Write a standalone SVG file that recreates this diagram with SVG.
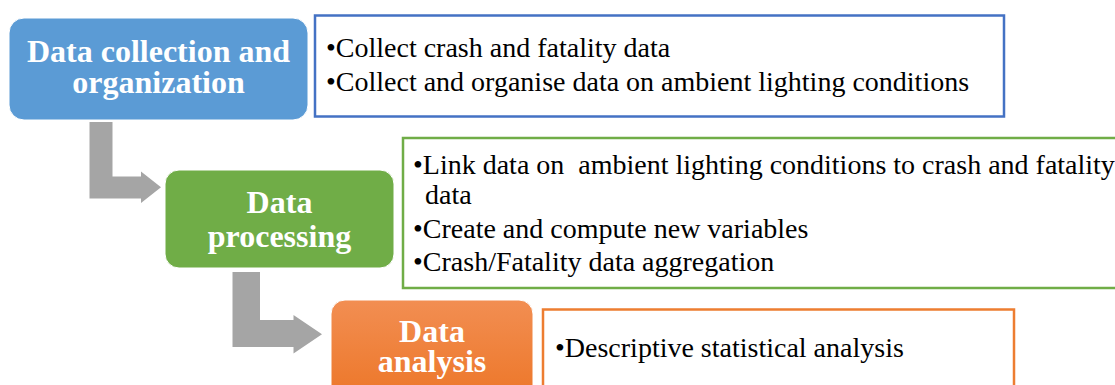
<svg xmlns="http://www.w3.org/2000/svg" width="1115" height="385" viewBox="0 0 1115 385">
<defs>
<linearGradient id="orangeGrad" x1="0" y1="0" x2="0" y2="1">
<stop offset="0" stop-color="#F28E52"/>
<stop offset="1" stop-color="#EC7424"/>
</linearGradient>
<style>
.title{font-family:"Liberation Serif","Times New Roman",serif;font-weight:bold;font-size:32px;fill:#FFFFFF;text-anchor:middle;}
.item{font-family:"Liberation Serif","Times New Roman",serif;font-size:28px;fill:#000000;white-space:pre;}
.arrow{fill:#A5A5A5;}
.detail{fill:#FFFFFF;stroke-width:2.5;}
</style>
</defs>
<rect width="1115" height="385" fill="#FFFFFF"/>
<g id="connectors">
<polygon class="arrow" points="89.5,122 112.5,122 112.5,176.5 141,176.5 141,171.5 161,187.3 141,203 141,198.5 89.5,198.5"/>
<polygon class="arrow" points="232.5,272 260,272 260,320 293.5,320 293.5,315 322,334.2 293.5,353.5 293.5,347 232.5,347"/>
</g>
<g id="node-collection">
<rect x="9" y="18" width="299" height="102" rx="15" fill="#5B9BD5" stroke="#FFFFFF" stroke-width="1"/>
<text class="title" x="158.5" y="61.5">Data collection and</text>
<text class="title" x="158.5" y="93">organization</text>
</g>
<g id="detail-collection">
<rect class="detail" x="315" y="15.5" width="689" height="101" stroke="#4472C4"/>
<text class="item" x="326" y="57">•Collect crash and fatality data</text>
<text class="item" x="326" y="91">•Collect and organise data on ambient lighting conditions</text>
</g>
<g id="node-processing">
<rect x="165" y="170" width="229" height="98" rx="14" fill="#70AD47" stroke="#FFFFFF" stroke-width="1"/>
<text class="title" x="279.5" y="212.5">Data</text>
<text class="title" x="279.5" y="247">processing</text>
</g>
<g id="detail-processing">
<rect class="detail" x="403" y="138" width="730" height="150" stroke="#70AD47"/>
<text class="item" x="413" y="174" xml:space="preserve">•Link data on  ambient lighting conditions to crash and fatality</text>
<text class="item" x="425" y="204">data</text>
<text class="item" x="413" y="238">•Create and compute new variables</text>
<text class="item" x="413" y="271">•Crash/Fatality data aggregation</text>
</g>
<g id="node-analysis">
<rect x="331" y="300" width="202" height="110" rx="14" fill="url(#orangeGrad)" stroke="#FFFFFF" stroke-width="1"/>
<text class="title" x="432" y="341.5">Data</text>
<text class="title" x="432" y="372">analysis</text>
</g>
<g id="detail-analysis">
<rect class="detail" x="543" y="309.5" width="471" height="100" stroke="#ED7D31" stroke-width="3"/>
<text class="item" x="555" y="357">•Descriptive statistical analysis</text>
</g>
</svg>
